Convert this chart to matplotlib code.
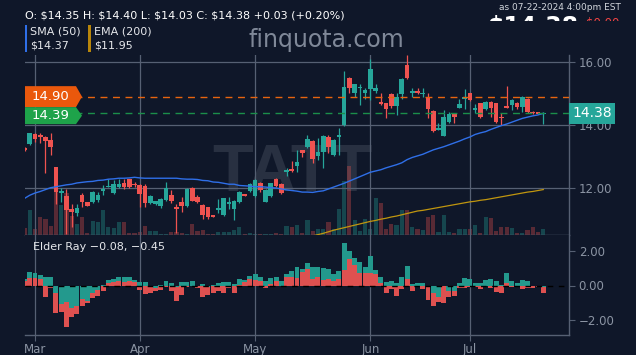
import numpy as np
import pandas as pd
import matplotlib
matplotlib.use('Agg')
import matplotlib.pyplot as plt
from matplotlib.patches import Polygon, Rectangle
from matplotlib.transforms import IdentityTransform
from matplotlib.ticker import FuncFormatter

# ---------------- data ----------------
holidays = ['2024-03-29', '2024-05-27', '2024-06-19', '2024-07-04']
dates = pd.bdate_range('2024-02-28', '2024-07-22')
dates = dates[~dates.isin(pd.to_datetime(holidays))]

opens = [13.27, 13.39, 13.70, 13.69, 13.61, 13.52, 12.66, 11.83, 11.75, 11.32,
         11.22, 11.78, 11.56, 11.56, 11.62, 11.90, 12.04, 11.83, 12.04, 12.15,
         12.28, 12.13, 12.10, 12.06, 11.51, 11.49, 11.44, 11.62, 11.77, 11.40,
         11.55, 11.44, 11.99, 11.72, 11.46, 11.39, 11.14, 11.30, 11.14, 11.49,
         11.33, 11.55, 11.81, 11.91, 11.76, 12.15, 11.56, 11.76, 12.29, 12.12,
         12.50, 12.59, 12.70, 13.21, 13.31, 13.48, 13.03, 13.15, 13.63, 13.05,
         13.63, 14.00, 15.48, 15.01, 15.17, 15.01, 15.13, 15.08, 14.72, 14.69,
         14.97, 14.61, 14.97, 15.90, 15.03, 15.09, 14.97, 14.90, 14.45, 13.84,
         13.66, 14.09, 14.34, 14.53, 14.84, 15.01, 14.48, 14.69, 14.50, 14.74,
         14.69, 14.26, 14.60, 14.63, 14.71, 14.58, 14.83, 14.42, 14.40, 14.35]
highs = [13.30, 13.76, 13.76, 13.74, 13.65, 13.74, 12.67, 11.99, 11.97, 11.49,
         11.49, 11.83, 11.57, 11.90, 11.88, 12.10, 12.28, 12.25, 12.28, 12.29,
         12.29, 12.19, 12.13, 12.13, 11.79, 11.60, 11.67, 12.18, 11.94, 11.49,
         11.70, 11.99, 12.02, 11.78, 11.48, 11.41, 11.15, 11.64, 11.69, 11.70,
         11.62, 11.91, 11.82, 12.15, 12.29, 12.20, 11.96, 12.17, 12.31, 12.15,
         12.63, 12.86, 13.21, 13.21, 13.68, 13.52, 13.60, 13.68, 13.68, 13.55,
         13.89, 15.72, 15.53, 15.30, 15.30, 15.17, 16.10, 15.29, 15.01, 14.71,
         15.01, 15.01, 15.48, 16.22, 15.18, 15.18, 15.17, 15.01, 14.48, 14.07,
         14.48, 14.42, 14.34, 14.82, 15.13, 15.03, 14.66, 14.71, 14.76, 14.77,
         14.71, 14.39, 15.24, 14.83, 14.74, 14.92, 14.85, 14.46, 14.42, 14.40]
lows = [13.18, 13.37, 13.47, 13.43, 12.49, 13.05, 11.49, 11.57, 10.55, 10.77,
        11.11, 11.39, 11.42, 11.53, 11.55, 11.78, 12.02, 11.81, 11.99, 11.96,
        12.00, 12.04, 11.41, 11.39, 11.48, 11.46, 11.37, 11.60, 11.51, 10.56,
        11.23, 11.41, 11.58, 11.51, 11.01, 11.02, 11.08, 11.20, 11.11, 11.33,
        10.98, 11.51, 11.75, 11.88, 11.72, 11.88, 11.55, 11.72, 12.02, 11.81,
        12.38, 12.52, 12.52, 12.99, 13.26, 12.80, 12.89, 12.64, 13.10, 13.03,
        13.05, 13.98, 15.01, 14.90, 14.63, 14.82, 14.79, 15.03, 14.63, 14.21,
        14.53, 14.32, 14.82, 15.46, 14.88, 14.97, 14.90, 14.21, 13.79, 13.84,
        13.65, 14.05, 14.07, 14.53, 14.50, 14.76, 14.37, 14.21, 14.48, 14.26,
        14.07, 14.00, 14.55, 14.48, 14.51, 14.42, 14.39, 14.35, 14.34, 14.03]
closes = [13.22, 13.74, 13.54, 13.61, 13.48, 13.29, 11.88, 11.90, 11.30, 11.25,
          11.38, 11.56, 11.44, 11.86, 11.78, 11.96, 12.07, 12.12, 12.12, 12.04,
          12.02, 12.08, 11.80, 11.53, 11.75, 11.58, 11.64, 12.01, 11.60, 11.33,
          11.44, 11.97, 11.60, 11.55, 11.14, 11.09, 11.09, 11.37, 11.67, 11.56,
          11.59, 11.88, 11.76, 12.12, 12.25, 11.94, 11.94, 12.15, 12.06, 11.83,
          12.57, 12.53, 12.83, 13.10, 13.55, 12.91, 13.14, 13.64, 13.29, 13.52,
          13.68, 15.22, 15.17, 15.30, 15.22, 15.11, 15.77, 15.17, 14.66, 14.51,
          14.61, 14.90, 15.46, 15.50, 15.09, 15.01, 15.03, 14.51, 13.82, 13.91,
          14.24, 14.34, 14.24, 14.66, 14.90, 14.79, 14.55, 14.24, 14.74, 14.53,
          14.11, 14.21, 14.55, 14.79, 14.58, 14.90, 14.42, 14.38, 14.36, 14.38]
volume_k = [27, 100, 23, 71, 63, 36, 173, 120, 167, 76,
            44, 71, 7, 56, 52, 100, 33, 27, 52, 52,
            9, 7, 13, 36, 17, 16, 4, 4, 11, 11,
            7, 4, 44, 16, 20, 4, 4, 11, 11, 13,
            20, 31, 4, 7, 4, 4, 4, 4, 8, 4,
            36, 31, 40, 9, 60, 17, 23, 24, 52, 23,
            104, 217, 276, 60, 16, 63, 24, 147, 127, 24,
            43, 40, 100, 100, 31, 24, 20, 73, 80, 13,
            80, 13, 9, 24, 24, 24, 40, 7, 71, 67,
            16, 31, 31, 27, 9, 9, 20, 31, 11, 23]
sma50 = [11.67, 11.77, 11.84, 11.89, 11.95, 12.01, 12.04, 12.07, 12.10, 12.12,
         12.16, 12.18, 12.20, 12.21, 12.24, 12.25, 12.28, 12.29, 12.31, 12.31,
         12.32, 12.34, 12.32, 12.31, 12.31, 12.31, 12.31, 12.31, 12.31, 12.31,
         12.29, 12.28, 12.28, 12.27, 12.24, 12.23, 12.19, 12.18, 12.15, 12.12,
         12.12, 12.08, 12.07, 12.06, 12.04, 12.04, 12.03, 12.01, 12.00, 11.97,
         11.94, 11.92, 11.90, 11.87, 11.87, 11.86, 11.89, 11.91, 11.97, 12.03,
         12.09, 12.15, 12.22, 12.29, 12.36, 12.43, 12.50, 12.54, 12.58, 12.64,
         12.69, 12.74, 12.80, 12.90, 12.97, 13.02, 13.07, 13.14, 13.21, 13.26,
         13.31, 13.37, 13.43, 13.49, 13.56, 13.62, 13.70, 13.75, 13.79, 13.86,
         13.92, 13.98, 14.03, 14.09, 14.15, 14.21, 14.25, 14.29, 14.32, 14.37]
# EMA(200): visible part only (last 45 sessions)
ema200 = [10.48, 10.52, 10.56, 10.61, 10.66, 10.70, 10.74, 10.78, 10.82, 10.86,
          10.90, 10.94, 10.97, 11.01, 11.04, 11.08, 11.11, 11.15, 11.19, 11.23,
          11.27, 11.29, 11.32, 11.35, 11.38, 11.41, 11.44, 11.47, 11.50, 11.53,
          11.56, 11.58, 11.61, 11.63, 11.66, 11.69, 11.72, 11.75, 11.78, 11.81,
          11.84, 11.87, 11.89, 11.92, 11.95]
elder_bull = [0.40, 0.78, 0.71, 0.61, 0.47, 0.47, -0.46, -1.07, -0.94, -1.32,
              -1.17, -0.78, -0.88, -0.45, -0.26, 0.02, 0.32, 0.38, 0.51, 0.51,
              0.47, 0.32, 0.22, 0.18, -0.05, -0.16, 0.05, 0.28, 0.13, -0.10,
              0.18, 0.22, 0.26, -0.05, 0.07, -0.07, 0.03, 0.13, 0.18, 0.18,
              0.07, 0.38, 0.30, 0.55, 0.67, 0.51, 0.24, 0.42, 0.47, 0.24,
              0.67, 0.82, 1.05, 0.94, 1.28, 1.05, 1.05, 1.00, 0.94, 0.67,
              0.86, 2.44, 1.98, 1.57, 1.38, 1.05, 1.71, 0.90, 0.47, 0.22,
              0.26, 0.13, 0.51, 1.13, 0.09, 0.13, 0.13, -0.07, -0.45, -0.69,
              -0.02, -0.30, -0.32, 0.13, 0.42, 0.36, 0.13, 0.16, 0.32, 0.36,
              0.28, 0.03, 0.71, 0.28, 0.13, 0.32, 0.24, 0.00, 0.00, -0.08]
elder_bear = [0.25, 0.42, 0.42, 0.36, -0.69, -0.15, -1.61, -1.52, -2.43, -1.81,
              -1.65, -1.17, -1.00, -0.74, -0.61, -0.30, 0.13, 0.22, 0.26, 0.18,
              0.26, 0.22, -0.26, -0.49, -0.45, -0.30, -0.26, -0.07, -0.30, -0.90,
              -0.55, -0.07, 0.00, -0.16, -0.65, -0.55, -0.45, -0.30, -0.42, -0.16,
              -0.45, 0.03, 0.22, 0.36, 0.30, 0.24, -0.12, 0.07, 0.24, -0.05,
              0.47, 0.51, 0.43, 0.76, 0.94, 0.36, 0.47, 0.30, 0.36, 0.24,
              0.36, 0.90, 1.52, 1.17, 0.71, 0.71, 0.71, 0.65, 0.13, -0.45,
              -0.20, -0.59, -0.20, 0.36, -0.30, -0.11, -0.22, -0.84, -1.17, -0.94,
              -1.03, -0.69, -0.59, -0.16, -0.16, -0.07, -0.11, -0.22, -0.03, -0.16,
              -0.36, -0.42, 0.13, -0.07, -0.03, -0.22, -0.16, -0.16, -0.10, -0.45]
level_orange = 14.90
level_green = 14.39
last_close = 14.38
ticker = 'TATT'

# ---------------- style ----------------
BG = '#0f1729'
GRID = '#566073'
TXT = '#8b94a3'
UP = '#26a69a'
DN = '#ef5350'
W, H = 636, 355

fig = plt.figure(figsize=(W / 100, H / 100), dpi=100, facecolor=BG)


def fx(px):
    return px / W


def fy(py):
    return 1 - py / H


ax = fig.add_axes([fx(25), fy(235), fx(569) - fx(25), fy(55) - fy(235)])
ax2 = fig.add_axes([fx(25), fy(335), fx(569) - fx(25), fy(235) - fy(335)])
for a in (ax, ax2):
    a.set_facecolor(BG)
    for s in ('top', 'left'):
        a.spines[s].set_visible(False)
    for s in ('right', 'bottom'):
        a.spines[s].set_color(GRID)
        a.spines[s].set_linewidth(1)

n = len(dates)
x = np.arange(n)
o = np.array(opens); h_ = np.array(highs); l_ = np.array(lows); c = np.array(closes)
up = c >= o
cols = np.where(up, UP, DN)

xl = (2 - 10 / 5.24, 2 + 534 / 5.24)
month_idx = [i for i in range(1, n) if dates[i].month != dates[i - 1].month]
month_lbl = [dates[i].strftime('%b') for i in month_idx]

# volume (overlay)
axv = ax.twinx()
axv.set_zorder(ax.get_zorder() - 0.5)
ax.patch.set_visible(False)
axv.patch.set_visible(True)
axv.patch.set_facecolor(BG)
axv.bar(x, volume_k, width=0.8, color=cols, alpha=0.33, zorder=1)
axv.set_ylim(0, 720)
axv.set_xlim(*xl)
axv.axis('off')

# watermark
axv.text(0.491, 0.34, ticker, transform=axv.transAxes, ha='center', va='center',
         fontsize=48, fontweight='bold', color='#283041', family='Liberation Sans', zorder=0.5)

# grid
for yv in (12, 14, 16):
    ax.axhline(yv, color=GRID, lw=0.9, zorder=1)
for mi in month_idx:
    ax.axvline(mi, color=GRID, lw=0.9, zorder=1)
    ax2.axvline(mi, color=GRID, lw=0.9, zorder=1)

# candles
ax.vlines(x, l_, h_, colors=cols, lw=0.9, zorder=3)
body_h = np.maximum(np.abs(c - o), 0.03)
ax.bar(x, body_h, bottom=np.minimum(o, c), width=0.88, color=cols, zorder=3, linewidth=0)

# moving averages
ax.plot(x, sma50, color='#2f6fe8', lw=1.0, zorder=4)
ax.plot(x[-len(ema200):], ema200, color='#c0960f', lw=0.9, zorder=4)

# price level lines
ax.axhline(level_orange, color='#e8640f', lw=1, ls=(0, (5, 4)), zorder=5)
ax.axhline(level_green, color='#1b8f4a', lw=1, ls=(0, (5, 4)), zorder=5)

ax.set_xlim(*xl)
ax.set_ylim(16 - 173 / 31.5, 16 + 7 / 31.5)
ax.yaxis.tick_right()
ax.set_yticks([12, 14, 16])
ax.yaxis.set_major_formatter(FuncFormatter(lambda v, p: f'{v:.2f}'))
ax.tick_params(axis='y', colors=GRID, labelcolor=TXT, labelsize=8.5, length=4, pad=3)
ax.set_xticks([])

# elder ray
bull = np.array(elder_bull)
bear = np.array(elder_bear)
ET = '#23998d'
ER = '#de5150'
ax2.bar(x, np.where(bull > 0, bull, 0), width=0.95, color=ET, zorder=2, linewidth=0)
ax2.bar(x, np.where(bear > 0, bear, 0), width=0.95, color=ER, zorder=3, linewidth=0)
ax2.bar(x, np.where(bear < 0, bear, 0), width=0.95, color=ER, zorder=2, linewidth=0)
ax2.bar(x, np.where(bull < 0, bull, 0), width=0.95, color=ET, zorder=3, linewidth=0)
ax2.axhline(0, color='#000000', lw=1, ls=(0, (4, 4)), zorder=4)
ax2.set_xlim(*xl)
ax2.set_ylim(-(335 - 285.5) / 17.25, (285.5 - 235) / 17.25)
ax2.yaxis.tick_right()
ax2.set_yticks([-2, 0, 2])
ax2.yaxis.set_major_formatter(FuncFormatter(lambda v, p: f'{v:.2f}'.replace('-', '\u2212')))
ax2.tick_params(axis='y', colors=GRID, labelcolor=TXT, labelsize=8.5, length=4, pad=3)
ax2.set_xticks(month_idx)
ax2.set_xticklabels(month_lbl)
ax2.tick_params(axis='x', colors=GRID, labelcolor=TXT, labelsize=8.5, length=4, pad=2)

fig.text(fx(33), fy(247), f'Elder Ray {bull[-1]:.2f}, {bear[-1]:.2f}'.replace('-', '\u2212'),
         color='#e5e7eb', fontsize=8, va='center', ha='left')

# ---------------- price labels ----------------
fig.canvas.draw()
to_disp = ax.transData


def ypix(price):
    return to_disp.transform((0, price))[1]


x0, xb, xt = 25, 76, 82
yo = ypix(level_orange)
ho = 10.5
poly_o = Polygon([(x0, yo - ho), (xb, yo - ho), (xt, yo), (xb, yo + ho), (x0, yo + ho)],
                 closed=True, transform=IdentityTransform(), facecolor='#ea580c', edgecolor='none',
                 zorder=6)
fig.add_artist(poly_o)
fig.text(fx(50.5), (yo) / H, f'{level_orange:.2f}', color='white', fontsize=9.5,
         ha='center', va='center', zorder=7)

yg = ypix(level_green)
gtop = min(yg + 8.5, yo - ho)
gbot = gtop - 17
gmid = (gtop + gbot) / 2
poly_g = Polygon([(x0, gbot), (xb, gbot), (xt, gmid), (xb, gtop), (x0, gtop)],
                 closed=True, transform=IdentityTransform(), facecolor='#1ea34a', edgecolor='none',
                 zorder=6)
fig.add_artist(poly_g)
fig.text(fx(50.5), gmid / H, f'{level_green:.2f}', color='white', fontsize=9.5,
         ha='center', va='center', zorder=7)

yc = ypix(last_close)
rect = Rectangle((569, yc - 10.5), 46, 21, transform=IdentityTransform(),
                 facecolor='#26a69a', edgecolor='none', zorder=6)
fig.add_artist(rect)
fig.text(fx(592), yc / H, f'{last_close:.2f}', color='white', fontsize=10,
         ha='center', va='center', zorder=7)

# ---------------- header ----------------
fig.text(fx(25), fy(15), r'O: \$14.35 H: \$14.40 L: \$14.03 C: \$14.38 +0.03 (+0.20%)',
         color='white', fontsize=8, va='center', ha='left')
fig.text(fx(621), fy(7.5), 'as 07-22-2024 4:00pm EST', color='#d1d5db', fontsize=6.5,
         va='center', ha='right', zorder=9)
fig.text(fx(578), fy(34), r'\$14.38', color='white', fontsize=17, fontweight='bold',
         ha='right', va='baseline', zorder=3)
fig.text(fx(619), fy(27), r'\$0.00', color='#ef4444', fontsize=8.5,
         ha='right', va='baseline', zorder=3)
# top strip of the header hides the lower part of the big quote
fig.add_artist(Rectangle((fx(470), fy(45)), fx(636 - 470), fy(21.5) - fy(45),
                         transform=fig.transFigure, facecolor=BG, edgecolor='none', zorder=8))

# legend
fig.add_artist(Rectangle((fx(24.5), fy(52)), fx(2.5), fy(25) - fy(52), transform=fig.transFigure,
                         facecolor='#2f6fe8', edgecolor='none'))
fig.add_artist(Rectangle((fx(87.5), fy(52)), fx(3), fy(25) - fy(52), transform=fig.transFigure,
                         facecolor='#b8860b', edgecolor='none'))
fig.text(fx(30), fy(32), 'SMA (50)', color='#e5e7eb', fontsize=8, va='center')
fig.text(fx(30), fy(46), r'\$14.37', color='#e5e7eb', fontsize=8, va='center')
fig.text(fx(94), fy(32), 'EMA (200)', color='#e5e7eb', fontsize=8, va='center')
fig.text(fx(94), fy(46), r'\$11.95', color='#e5e7eb', fontsize=8, va='center')
fig.text(fx(326), fy(40), 'finquota.com', color='#7f8898', fontsize=17, ha='center', va='center')

fig.savefig('out.png', dpi=100, facecolor=BG)
